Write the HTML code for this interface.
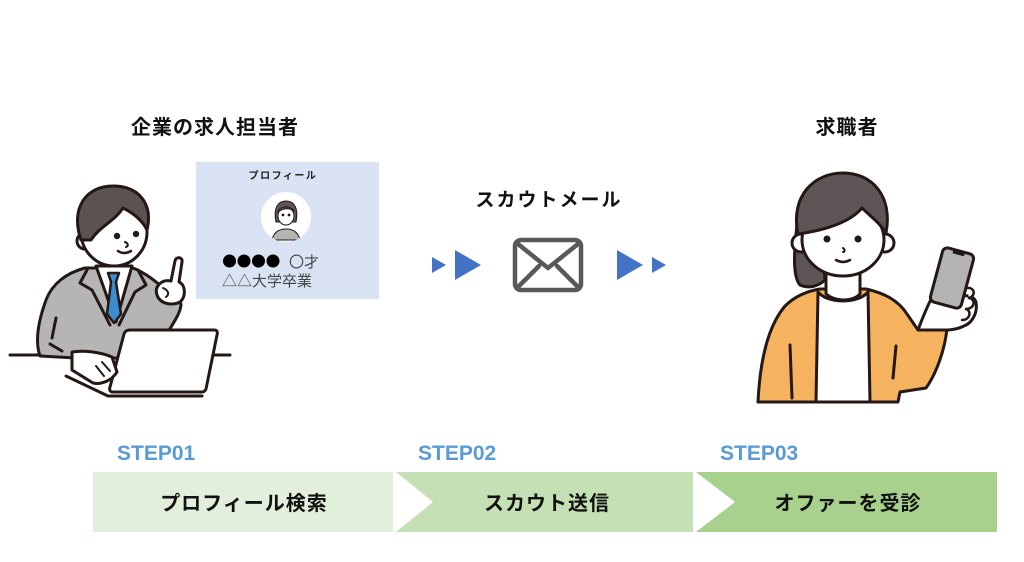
<!DOCTYPE html>
<html lang="ja">
<head>
<meta charset="utf-8">
<style>
  html,body{margin:0;padding:0;background:#fff;}
  body{width:1024px;height:562px;overflow:hidden;}
  svg{display:block;}
  .jp{font-family:"Liberation Sans","Noto Sans CJK JP",sans-serif;}
  .cjk{font-family:"Noto Sans CJK JP",sans-serif;}
  .step{font-family:"Liberation Sans",sans-serif;font-weight:bold;font-size:21px;fill:#5b9bd5;}
</style>
</head>
<body>
<svg width="1024" height="562" viewBox="0 0 1024 562" xmlns="http://www.w3.org/2000/svg">
  <!-- Headings -->
  <text class="jp" x="215" y="134" font-size="20" font-weight="bold" text-anchor="middle" letter-spacing="1" fill="#111">企業の求人担当者</text>
  <text class="jp" x="847" y="134" font-size="20" font-weight="bold" text-anchor="middle" letter-spacing="1" fill="#111">求職者</text>
  <text class="jp" x="549" y="206" font-size="19" font-weight="bold" text-anchor="middle" letter-spacing="2" fill="#111">スカウトメール</text>

  <!-- Profile card -->
  <rect x="196" y="162" width="183" height="137" fill="#dae3f3"/>
  <text class="jp" x="283" y="179" font-size="10" font-weight="bold" text-anchor="middle" letter-spacing="1.5" fill="#222">プロフィール</text>
  <circle cx="286" cy="217" r="25" fill="#fff"/>
  <defs><clipPath id="av"><circle cx="286" cy="217" r="25"/></clipPath></defs>
  <g clip-path="url(#av)" stroke="#231815" stroke-width="1">
    <path d="M272,240 C274,231 280,229 286,229 C292,229 298,231 300,240 Z" fill="#b5b5b5"/>
    <path d="M276,222 C273,208 278,201 286,201 C294,201 299,208 296,222 Z" fill="#5e5656"/>
    <ellipse cx="286" cy="216" rx="8" ry="9" fill="#fff"/>
    <path d="M278,212 C282,209 288,207 294,211 C292,206 280,205 278,212 Z" fill="#5e5656"/>
    <circle cx="283" cy="215" r="0.9" fill="#231815"/>
    <circle cx="289" cy="215" r="0.9" fill="#231815"/>
  </g>
  <g fill="#000">
    <circle cx="229.5" cy="261" r="6.5"/>
    <circle cx="244" cy="261" r="6.5"/>
    <circle cx="258.5" cy="261" r="6.5"/>
    <circle cx="273" cy="261" r="6.5"/>
  </g>
  <text class="jp" x="289" y="267" font-size="15" fill="#444">〇才</text>
  <text class="jp" x="222" y="286" font-size="15" fill="#444">△△大学卒業</text>

  <!-- Man figure -->
  <g stroke="#231815" stroke-width="3" stroke-linejoin="round" stroke-linecap="round">
    <!-- suit -->
    <path d="M85,268 C66,273 52,284 46,300 C38,322 35,342 40,356 L76,358 L150,358 L168,332 C174,322 181,312 181,304 L162,287 C152,278 143,272 133,268 Z" fill="#b5b5b5"/>
    <!-- shirt -->
    <path d="M96,266 L132,266 L116,322 Z" fill="#fff"/>
    <!-- tie -->
    <path d="M108,273 L119,273 L116,282 L121,314 L114,323 L107,314 L111,282 Z" fill="#3c8dd0" stroke-width="2.5"/>
    <!-- lapels -->
    <path d="M87,270 L80,283 L92,290 L110,325" fill="none"/>
    <path d="M138,270 L146,285 L135,292 L119,325" fill="none"/>
    <path d="M56,318 L52,338" fill="none"/>
    <path d="M50,344 L62,351" fill="none"/>
    <!-- head -->
    <circle cx="85" cy="241" r="8" fill="#fff"/>
    <ellipse cx="114" cy="232" rx="33" ry="34" fill="#fff"/>
    <path d="M81,240 C70,208 86,186 113,186 C140,186 153,205 147,230 C142,220 133,213 123,208 C115,221 100,226 91,240 Z" fill="#5b5350"/>
    <circle cx="117" cy="236" r="3.2" fill="#231815" stroke="none"/>
    <circle cx="136" cy="234" r="3.2" fill="#231815" stroke="none"/>
    <path d="M125,242 C128,243 129,246 126,247" fill="none" stroke-width="2"/>
    <path d="M118,251 Q124,255 131,251" fill="none" stroke-width="2.5"/>
    <!-- raised hand -->
    <path d="M171,281 L175,261 C176,256 183,257 182,262 L179,282 C186,285 186,297 180,302 C172,306 160,304 157,295 C154,286 162,279 171,281 Z" fill="#fff"/>
    <path d="M163,288 C168,290 170,294 166,297" fill="none" stroke-width="2"/>
    <!-- laptop -->
    <path d="M130,330 L214,330 C217,330 218,332 217,335 L206,389 C205,391 204,392 202,392 L113,392 C110,392 109,390 110,387 L124,334 C125,331 127,330 130,330 Z" fill="#fff"/>
    <!-- left hand -->
    <path d="M72,352 C84,350 100,352 112,357 L117,372 C112,380 102,385 93,383 L72,370 Z" fill="#fff"/>
    <path d="M96,366 L104,376 M102,362 L110,371" fill="none" stroke-width="2"/>
    <!-- laptop base -->
    <path d="M66,376 L108,396 L202,396" fill="none"/>
    <!-- table -->
    <path d="M10,355 L40,355" fill="none"/>
    <path d="M213,355 L230,355" fill="none"/>
  </g>

  <!-- Arrows & envelope -->
  <g fill="#4472c4">
    <polygon points="432,257 446,265 432,273"/>
    <polygon points="455,250 481,265 455,280"/>
    <polygon points="617,250 643,265 617,280"/>
    <polygon points="652,257 666,265 652,273"/>
  </g>
  <g stroke="#595959" stroke-width="4.5" fill="none" stroke-linejoin="round" stroke-linecap="round">
    <rect x="515" y="240" width="66" height="50" rx="6" fill="#fff"/>
    <polyline points="518,244 548,268 578,244"/>
    <line x1="518" y1="287" x2="539" y2="266"/>
    <line x1="578" y1="287" x2="557" y2="266"/>
  </g>

  <!-- Woman figure -->
  <g stroke="#231815" stroke-width="3" stroke-linejoin="round" stroke-linecap="round">
    <!-- body -->
    <path d="M758,402 C760,360 768,326 785,306 C795,296 808,291 820,289 L866,289 C884,293 898,300 907,314 L918,330 L947,328 C945,350 936,374 926,388 L900,392 L898,402 Z" fill="#f5b35f"/>
    <path d="M818,292 C828,304 858,304 868,292 L870,402 L816,402 Z" fill="#fff"/>
    <path d="M790,345 L792,398 M896,346 L893,378" fill="none"/>
    <!-- neck -->
    <path d="M826,268 L826,294 C836,302 852,302 860,294 L860,268 Z" fill="#fff"/>
    <!-- hair back -->
    <path d="M798,215 C794,250 792,276 800,285 C809,289 819,286 825,280 L822,240 Z" fill="#5e5656"/>
    <!-- ears & face -->
    <circle cx="801" cy="243" r="9" fill="#fff"/>
    <circle cx="885" cy="243" r="9" fill="#fff"/>
    <ellipse cx="843" cy="240" rx="41" ry="36" fill="#fff"/>
    <path d="M798,234 C790,196 814,173 843,173 C872,173 893,196 886,233 C880,223 870,216 862,208 C850,222 826,230 798,234 Z" fill="#5e5656"/>
    <circle cx="827" cy="239" r="3.5" fill="#231815" stroke="none"/>
    <circle cx="858" cy="239" r="3.5" fill="#231815" stroke="none"/>
    <path d="M843,248 C845,249 845,252 843,252" fill="none" stroke-width="2"/>
    <path d="M836,260 Q843,264 850,260" fill="none" stroke-width="2.5"/>
    <!-- hand -->
    <path d="M918,330 C924,314 930,300 936,290 L950,300 C960,296 972,292 976,302 C978,313 972,323 964,326 C956,330 947,330 947,330 Z" fill="#fff"/>
    <!-- phone -->
    <g transform="rotate(15 952 278)">
      <rect x="936" y="250" width="32" height="56" rx="5" fill="#b3b3b3"/>
      <rect x="946" y="251" width="12" height="3" rx="1" fill="#231815" stroke="none"/>
    </g>
    <path d="M967,288 C975,287 976,296 969,298 M969,298 C976,299 975,309 966,309 M966,309 C972,311 970,320 962,320" fill="#fff" stroke-width="2.5"/>
  </g>

  <!-- Steps -->
  <text class="step" x="117" y="460">STEP01</text>
  <text class="step" x="418" y="460">STEP02</text>
  <text class="step" x="720" y="460">STEP03</text>

  <rect x="93" y="472" width="300" height="60" fill="#e2efda"/>
  <polygon points="396,472 693,472 693,532 396,532 433,502" fill="#c5e0b4"/>
  <polygon points="696,472 997,472 997,532 696,532 735,502" fill="#a9d18e"/>

  <text class="jp" x="244" y="510" font-size="20" font-weight="bold" text-anchor="middle" letter-spacing="1" fill="#111">プロフィール検索</text>
  <text class="jp" x="547" y="510" font-size="20" font-weight="bold" text-anchor="middle" letter-spacing="1" fill="#111">スカウト送信</text>
  <text class="jp" x="848" y="510" font-size="20" font-weight="bold" text-anchor="middle" letter-spacing="1" fill="#111">オファーを受診</text>
</svg>
</body>
</html>
